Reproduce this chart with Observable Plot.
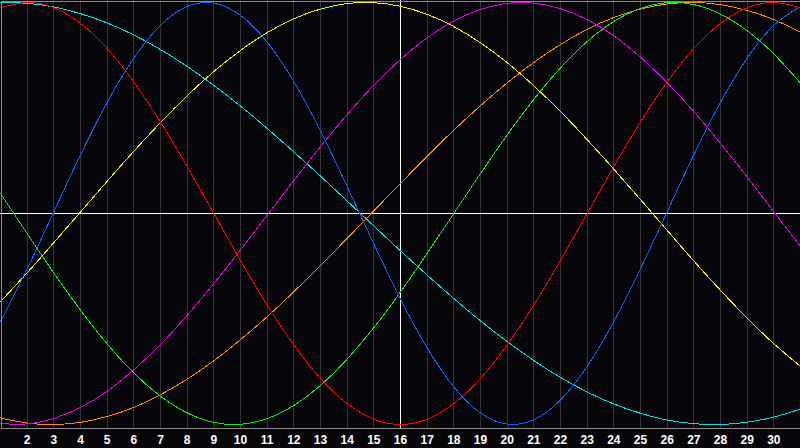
<!DOCTYPE html>
<html>
<head>
<meta charset="utf-8">
<script src="https://cdn.jsdelivr.net/npm/d3@7"></script>
<script src="https://cdn.jsdelivr.net/npm/@observablehq/plot@0.6"></script>
<style>
  html, body { margin: 0; padding: 0; background: #07060a; overflow: hidden; }
  #chart svg { display: block; }
</style>
</head>
<body>
<div id="chart"></div>
<script>
// Days of the month shown (day 1 at the left edge, day 31 at the right edge)
const days = [1,2,3,4,5,6,7,8,9,10,11,12,13,14,15,16,17,18,19,20,21,22,23,24,25,26,27,28,29,30,31];
// Tick labels along the bottom
const tickDays = [2,3,4,5,6,7,8,9,10,11,12,13,14,15,16,17,18,19,20,21,22,23,24,25,26,27,28,29,30];
// Current day marker
const today = [16];

// Series values, one per day
const physical     = [-0.512,-0.262,0.008,0.278,0.527,0.736,0.892,0.981,0.997,0.939,0.812,0.625,0.391,0.128,-0.144,-0.406,-0.637,-0.822,-0.945,-0.998,-0.977,-0.884,-0.725,-0.512,-0.262,0.008,0.278,0.527,0.736,0.892,0.981];
const emotional    = [0.975,1.000,0.975,0.901,0.782,0.623,0.434,0.223,0.000,-0.223,-0.434,-0.623,-0.782,-0.901,-0.975,-1.000,-0.975,-0.901,-0.782,-0.623,-0.434,-0.223,0.000,0.223,0.434,0.623,0.782,0.901,0.975,1.000,0.975];
const intellectual = [0.095,-0.095,-0.282,-0.458,-0.618,-0.756,-0.866,-0.945,-0.990,-0.999,-0.972,-0.910,-0.815,-0.690,-0.541,-0.372,-0.189,0.000,0.189,0.372,0.541,0.690,0.815,0.910,0.972,0.999,0.990,0.945,0.866,0.756,0.618];
const intuitive    = [-0.996,-0.997,-0.971,-0.919,-0.842,-0.741,-0.621,-0.483,-0.332,-0.173,-0.008,0.156,0.317,0.469,0.608,0.730,0.833,0.912,0.967,0.996,0.997,0.971,0.919,0.842,0.741,0.620,0.483,0.332,0.173,0.008,-0.156];
const aesthetic    = [-0.418,-0.281,-0.138,0.007,0.153,0.295,0.431,0.558,0.673,0.773,0.857,0.923,0.969,0.995,0.999,0.982,0.944,0.886,0.809,0.715,0.605,0.483,0.350,0.210,0.066,-0.080,-0.225,-0.364,-0.496,-0.617,-0.725];
const awareness    = [-0.969,-0.993,-1.000,-0.990,-0.962,-0.919,-0.859,-0.785,-0.698,-0.598,-0.489,-0.371,-0.246,-0.118,0.013,0.143,0.271,0.395,0.511,0.619,0.716,0.801,0.873,0.929,0.969,0.993,1.000,0.990,0.962,0.919,0.859];
const spiritual    = [1.000,0.996,0.979,0.947,0.903,0.846,0.777,0.697,0.607,0.509,0.403,0.292,0.177,0.059,-0.059,-0.177,-0.292,-0.403,-0.509,-0.607,-0.697,-0.777,-0.846,-0.903,-0.947,-0.979,-0.996,-1.000,-0.989,-0.965,-0.927];

const seriesNames  = ["spiritual","awareness","aesthetic","intuitive","intellectual","emotional","physical"];
const seriesColors = ["#00e0e0","#ff8a00","#f0f000","#e800e8","#10f010","#ff0000","#0a64ff"];
const seriesValues = [spiritual, awareness, aesthetic, intuitive, intellectual, emotional, physical];

const rows = seriesNames.flatMap((name, k) =>
  seriesValues[k].map((v, i) => ({day: days[i], value: v, name}))
);

const chart = Plot.plot({
  width: 800,
  height: 448,
  marginTop: 0,
  marginRight: 0,
  marginBottom: 20,
  marginLeft: 0,
  style: {background: "#07060a", color: "#ffffff"},
  x: {domain: [1, 31], axis: null},
  y: {domain: [-1, 1], insetTop: 2, insetBottom: 4, axis: null},
  color: {domain: seriesNames, range: seriesColors},
  marks: [
    Plot.ruleX(tickDays, {stroke: "#333337", strokeWidth: 1, shapeRendering: "crispEdges"}),
    Plot.ruleY([0], {stroke: "#ffffff", strokeWidth: 1, shapeRendering: "crispEdges"}),
    Plot.ruleX(today, {stroke: "#ffffff", strokeWidth: 1, shapeRendering: "crispEdges"}),
    Plot.line(rows, {x: "day", y: "value", z: "name", stroke: "name", curve: "natural", strokeWidth: 1, shapeRendering: "crispEdges"}),
    Plot.frame({stroke: "#8c8c8c", inset: 0.5, shapeRendering: "crispEdges"}),
    Plot.axisX(tickDays, {
      tickSize: 0,
      tickPadding: 7,
      fill: "#ffffff",
      fontSize: 12,
      fontWeight: "bold",
      fontFamily: "Liberation Sans, Arial, sans-serif",
      label: null
    })
  ]
});

document.getElementById("chart").appendChild(chart);
</script>
</body>
</html>
